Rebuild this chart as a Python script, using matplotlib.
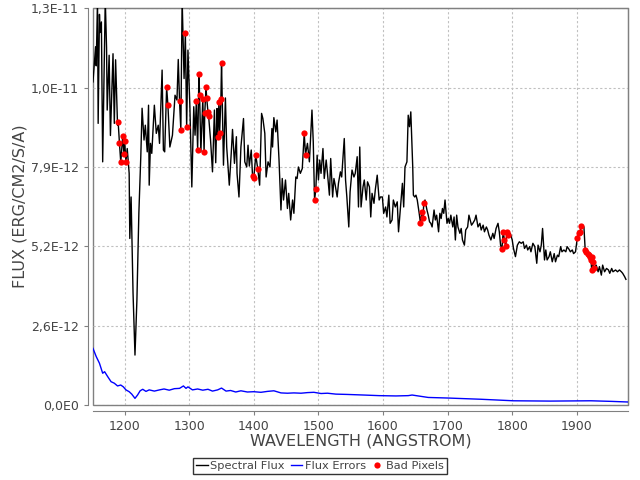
import matplotlib
matplotlib.use('Agg')
import matplotlib.pyplot as plt
from matplotlib.ticker import FuncFormatter
import numpy as np

# spectrum (flux in units of 1E-12 erg/cm2/s/A)
wave = [1151, 1155, 1156, 1158, 1159, 1161, 1162, 1164, 1166, 1170, 1172, 1173, 1176, 1178,
        1182, 1184, 1186, 1189, 1190, 1192, 1194, 1196, 1197, 1199, 1200, 1202, 1204, 1207,
        1208, 1210, 1213, 1216, 1219, 1222, 1225, 1227, 1230, 1232, 1235, 1237, 1238, 1240,
        1242, 1246, 1249, 1252, 1254, 1258, 1260, 1262, 1265, 1267, 1270, 1274, 1278, 1281,
        1283, 1285, 1287, 1289, 1292, 1294, 1296, 1298, 1301, 1304, 1307, 1309, 1311, 1313,
        1315, 1316, 1318, 1321, 1323, 1324, 1326, 1327, 1329, 1330, 1333, 1336, 1339, 1341,
        1343, 1344, 1346, 1347, 1349, 1350, 1353, 1356, 1358, 1362, 1365, 1367, 1370, 1373,
        1374, 1377, 1380, 1384, 1386, 1389, 1391, 1393, 1396, 1398, 1400, 1403, 1406, 1409,
        1412, 1414, 1417, 1419, 1422, 1425, 1428, 1429, 1431, 1434, 1436, 1439, 1442, 1444,
        1446, 1449, 1452, 1454, 1457, 1460, 1462, 1465, 1467, 1469, 1472, 1475, 1478, 1480,
        1483, 1486, 1490, 1492, 1494, 1496, 1498, 1500, 1502, 1504, 1507, 1509, 1512, 1514,
        1517, 1519, 1522, 1524, 1526, 1529, 1531, 1534, 1536, 1540, 1542, 1544, 1547, 1549,
        1552, 1555, 1557, 1560, 1562, 1564, 1566, 1569, 1571, 1574, 1576, 1579, 1581, 1583,
        1586, 1588, 1591, 1594, 1596, 1599, 1601, 1604, 1606, 1609, 1611, 1614, 1616, 1619,
        1622, 1624, 1627, 1630, 1632, 1634, 1637, 1639, 1641, 1643, 1646, 1647, 1649, 1651,
        1653, 1656, 1658, 1660, 1662, 1663, 1665, 1668, 1670, 1672, 1674, 1676, 1679, 1681,
        1683, 1686, 1688, 1690, 1692, 1694, 1696, 1699, 1701, 1703, 1705, 1708, 1710, 1712,
        1714, 1716, 1719, 1721, 1723, 1726, 1728, 1731, 1733, 1735, 1737, 1739, 1742, 1744,
        1747, 1750, 1752, 1755, 1757, 1760, 1762, 1764, 1767, 1770, 1772, 1775, 1778, 1780,
        1782, 1784, 1786, 1788, 1790, 1792, 1794, 1797, 1800, 1802, 1805, 1808, 1811, 1814,
        1817, 1819, 1822, 1824, 1827, 1829, 1832, 1835, 1838, 1840, 1843, 1845, 1847, 1850,
        1852, 1854, 1857, 1859, 1862, 1865, 1867, 1870, 1872, 1875, 1877, 1880, 1883, 1885,
        1888, 1890, 1893, 1895, 1898, 1900, 1901, 1903, 1905, 1907, 1911, 1913, 1915, 1917,
        1919, 1921, 1922, 1923, 1924, 1925, 1926, 1928, 1930, 1933, 1935, 1938, 1940, 1943,
        1946, 1949, 1951, 1954, 1956, 1960, 1963, 1966, 1969, 1971, 1974, 1976]
flux = [10.67, 11.83, 11.2, 13.4, 9.3, 12.9, 12.3, 12.65, 8.03, 13.4, 11.8, 9.74, 11.55, 8.9,
        11.6, 9.3, 11.4, 9.24, 9.33, 8.64, 8.01, 8.61, 8.88, 8.28, 8.71, 8.04, 8.47, 7.65,
        5.5, 6.87, 3.7, 1.65, 3.47, 6.33, 8.2, 9.8, 8.75, 9.24, 8.36, 9.9, 7.26, 8.64,
        8.31, 9.9, 8.97, 9.24, 8.64, 11.06, 8.42, 8.36, 10.49, 9.9, 8.52, 8.91, 10.23, 10.07,
        11.41, 10.03, 9.08, 13.4, 10.78, 12.27, 9.17, 11.72, 9.85, 7.2, 9.85, 8.91, 10.03, 8.42,
        10.92, 10.25, 8.36, 10.09, 8.34, 9.63, 10.5, 10.14, 9.68, 9.54, 8.75, 7.7, 9.74, 8.0,
        9.79, 8.84, 10.01, 8.97, 10.09, 11.31, 7.92, 10.14, 8.52, 7.26, 8.31, 9.1, 7.98, 8.86,
        7.65, 6.87, 8.52, 9.46, 8.03, 7.86, 8.58, 7.89, 8.42, 7.56, 7.51, 8.25, 7.81, 7.26,
        9.63, 9.46, 8.97, 7.53, 8.03, 7.86, 9.13, 8.52, 9.49, 9.02, 9.41, 8.09, 6.44, 7.48,
        6.77, 7.43, 6.49, 6.99, 6.11, 6.77, 6.33, 7.53, 7.48, 7.86, 7.65, 7.81, 8.97, 8.27,
        8.64, 8.03, 9.74, 8.69, 6.77, 7.12, 8.25, 7.43, 8.09, 7.65, 8.47, 7.48, 8.09, 7.65,
        6.93, 8.14, 6.87, 7.48, 7.26, 6.87, 7.32, 7.7, 7.53, 8.8, 7.43, 6.87, 5.88, 7.04,
        7.76, 7.53, 7.65, 8.2, 6.54, 8.52, 6.54, 7.2, 7.43, 6.77, 7.37, 7.2, 6.21, 6.99,
        6.66, 7.1, 7.59, 6.77, 6.87, 6.87, 6.33, 6.54, 6.21, 6.93, 6.0, 6.11, 6.77, 6.54,
        6.71, 5.72, 6.5, 7.32, 6.54, 7.86, 8.03, 9.57, 9.19, 9.68, 7.86, 6.93, 6.87, 6.93,
        6.77, 6.33, 6.0, 6.36, 6.16, 6.66, 6.77, 6.44, 6.27, 6.05, 6.0, 5.88, 6.44, 6.11,
        6.27, 5.72, 6.33, 6.16, 6.49, 6.33, 6.77, 6.0, 6.16, 6.0, 6.27, 5.88, 6.21, 5.45,
        6.27, 5.88, 5.67, 5.83, 5.45, 5.28, 5.78, 5.88, 6.27, 6.11, 5.94, 6.0, 6.11, 6.27,
        5.88, 6.0, 5.78, 5.94, 5.72, 5.88, 5.78, 5.61, 5.45, 5.67, 5.5, 5.83, 6.0, 5.72,
        5.28, 5.14, 5.72, 5.45, 5.26, 5.72, 5.61, 5.67, 5.45, 5.17, 4.9, 5.28, 5.39, 5.34,
        5.39, 5.17, 5.28, 5.12, 5.23, 5.06, 5.34, 5.23, 4.68, 5.28, 5.06, 5.28, 5.83, 4.79,
        5.12, 4.79, 4.9, 5.06, 4.73, 5.0, 4.73, 4.95, 4.9, 5.23, 5.06, 5.12, 5.06, 5.23,
        5.14, 5.06, 5.12, 5.0, 5.06, 5.39, 5.5, 5.67, 5.72, 5.91, 5.88, 5.12, 5.06, 5.0,
        4.95, 4.9, 4.79, 4.46, 4.9, 4.73, 4.54, 4.57, 4.62, 4.4, 4.57, 4.29, 4.62, 4.4,
        4.51, 4.46, 4.35, 4.51, 4.4, 4.46, 4.4, 4.46, 4.4, 4.35, 4.24, 4.15]

# flux errors
err_wave = [1151, 1156, 1161, 1166, 1169, 1174, 1179, 1184, 1189, 1194, 1198, 1202, 1207, 1211,
            1216, 1220, 1224, 1228, 1233, 1238, 1246, 1254, 1261, 1269, 1277, 1285, 1291, 1295,
            1298, 1305, 1313, 1321, 1329, 1336, 1344, 1350, 1357, 1364, 1372, 1380, 1390, 1400,
            1411, 1421, 1431, 1442, 1452, 1462, 1473, 1483, 1493, 1504, 1514, 1527, 1544, 1570,
            1594, 1620, 1639, 1645, 1670, 1702, 1714, 1752, 1802, 1859, 1922, 1954, 1979]
err_flux = [1.87, 1.6, 1.38, 1.05, 1.1, 0.93, 0.77, 0.72, 0.63, 0.66, 0.6, 0.5, 0.44, 0.36,
            0.22, 0.33, 0.47, 0.52, 0.45, 0.5, 0.46, 0.5, 0.53, 0.49, 0.54, 0.55, 0.63, 0.55,
            0.6, 0.5, 0.53, 0.49, 0.52, 0.46, 0.5, 0.56, 0.46, 0.48, 0.43, 0.47, 0.43, 0.44,
            0.42, 0.45, 0.47, 0.4, 0.39, 0.4, 0.39, 0.41, 0.42, 0.38, 0.39, 0.36, 0.35, 0.33,
            0.31, 0.3, 0.31, 0.33, 0.25, 0.23, 0.22, 0.19, 0.14, 0.13, 0.14, 0.12, 0.1]

# bad pixels
bad_wave = [1190, 1192, 1194, 1197, 1199, 1200, 1202, 1265, 1267, 1285, 1287, 1294, 1296,
            1311, 1313, 1315, 1316, 1321, 1323, 1324, 1326, 1327, 1329, 1330, 1344, 1346,
            1347, 1349, 1350, 1398, 1400, 1403, 1406, 1478, 1480, 1494, 1496, 1658, 1660,
            1662, 1663, 1784, 1786, 1788, 1790, 1792, 1794, 1901, 1903, 1905, 1907, 1913,
            1915, 1917, 1919, 1921, 1922, 1923, 1924, 1925, 1926]
bad_flux = [9.33, 8.64, 8.01, 8.88, 8.28, 8.71, 8.04, 10.49, 9.9, 10.03, 9.08, 12.27, 9.17,
            10.03, 8.42, 10.92, 10.25, 10.09, 8.34, 9.63, 10.5, 10.14, 9.68, 9.54, 8.84, 10.01,
            8.97, 10.09, 11.31, 7.56, 7.51, 8.25, 7.81, 8.97, 8.27, 6.77, 7.12, 6.0, 6.36,
            6.16, 6.66, 5.14, 5.72, 5.45, 5.26, 5.72, 5.61, 5.5, 5.67, 5.72, 5.91, 5.12,
            5.06, 5.0, 4.95, 4.9, 4.79, 4.46, 4.9, 4.73, 4.54]

unit = 1e-12
txt = '#444444'


def sci_comma(v, pos):
    if abs(v) < 1e-20:
        return '0,0E0'
    e = int(np.floor(np.log10(abs(v))))
    m = v / 10.0 ** e
    if round(m, 1) >= 10:
        m /= 10
        e += 1
    return ('%.1f' % m).replace('.', ',') + 'E%d' % e


plt.rcParams['font.family'] = 'DejaVu Sans'

fig = plt.figure(figsize=(6.4, 4.8), dpi=100)
ax = fig.add_axes([0.1458, 0.1562, 0.8352, 0.8265])

ax.plot(wave, np.array(flux) * unit, color='black', lw=1.0, label='Spectral Flux', zorder=3)
ax.plot(err_wave, np.array(err_flux) * unit, color='#0000ff', lw=1.0, label='Flux Errors', zorder=3)
ax.plot(bad_wave, np.array(bad_flux) * unit, 'o', color='#ff0000', markersize=4.5,
        markeredgewidth=0, label='Bad Pixels', zorder=4)

ax.set_xlim(1151.5, 1979)
ax.set_ylim(0, 13.1e-12)
ax.set_xticks([1200, 1300, 1400, 1500, 1600, 1700, 1800, 1900])
ax.set_yticks(np.linspace(0, 13.1e-12, 6))
ax.yaxis.set_major_formatter(FuncFormatter(sci_comma))

ax.grid(True, color='#c0c0c0', linestyle=(0, (2, 2)), lw=0.8)
ax.set_axisbelow(True)

for s in ['top', 'right']:
    ax.spines[s].set_color('#808080')
for s in ['left', 'bottom']:
    ax.spines[s].set_color('#808080')
    ax.spines[s].set_position(('outward', 4))
ax.patch.set_edgecolor('#808080')
ax.patch.set_linewidth(1.0)

ax.tick_params(axis='both', colors='#808080', labelcolor=txt, labelsize=9, length=3, width=0.8)

ax.set_xlabel('WAVELENGTH (ANGSTROM)', fontsize=11.5, color=txt, labelpad=1)
ax.set_ylabel('FLUX (ERG/CM2/S/A)', fontsize=11.5, color=txt, labelpad=2)

leg = fig.legend(loc='center', bbox_to_anchor=(0.5, 0.029), ncol=3, fontsize=8.2,
                 frameon=True, fancybox=False, handlelength=1.0, handletextpad=0.25,
                 columnspacing=0.5, borderpad=0.3, borderaxespad=0.2, numpoints=1)
leg.get_frame().set_edgecolor('black')
leg.get_frame().set_linewidth(1.0)
for t in leg.get_texts():
    t.set_color(txt)

plt.savefig('out.png', dpi=100)
plt.close(fig)
